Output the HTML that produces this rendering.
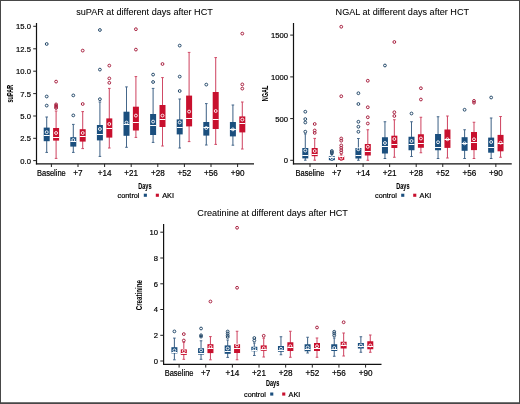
<!DOCTYPE html>
<html><head><meta charset="utf-8"><style>
html,body{margin:0;padding:0;background:#fff;}
body{width:520px;height:404px;overflow:hidden;position:relative;}
svg{position:absolute;left:0;top:0;font-family:"Liberation Sans",sans-serif;will-change:transform;}
text{stroke:#000;stroke-width:0.2px;}
</style></head><body>
<svg width="520" height="404" viewBox="0 0 520 404">
<rect x="0" y="0" width="520" height="404" fill="#fff"/>
<text x="144.5" y="15.4" font-size="9.1" text-anchor="middle" fill="#000" style="stroke-width:0.06px">suPAR at different days after HCT</text>
<line x1="36.5" y1="23" x2="36.5" y2="164.4" stroke="#111" stroke-width="1.2"/>
<line x1="35.9" y1="163.8" x2="254" y2="163.8" stroke="#111" stroke-width="1.2"/>
<line x1="33.2" y1="26.3" x2="36.5" y2="26.3" stroke="#222" stroke-width="1"/>
<text x="30.9" y="29.2" font-size="8.1" text-anchor="end" textLength="14.89" lengthAdjust="spacingAndGlyphs" fill="#000">15.0</text>
<line x1="33.2" y1="48.8" x2="36.5" y2="48.8" stroke="#222" stroke-width="1"/>
<text x="30.9" y="51.699999999999996" font-size="8.1" text-anchor="end" textLength="14.89" lengthAdjust="spacingAndGlyphs" fill="#000">12.5</text>
<line x1="33.2" y1="71.2" x2="36.5" y2="71.2" stroke="#222" stroke-width="1"/>
<text x="30.9" y="74.10000000000001" font-size="8.1" text-anchor="end" textLength="14.89" lengthAdjust="spacingAndGlyphs" fill="#000">10.0</text>
<line x1="33.2" y1="93.6" x2="36.5" y2="93.6" stroke="#222" stroke-width="1"/>
<text x="30.9" y="96.5" font-size="8.1" text-anchor="end" textLength="10.63" lengthAdjust="spacingAndGlyphs" fill="#000">7.5</text>
<line x1="33.2" y1="116" x2="36.5" y2="116" stroke="#222" stroke-width="1"/>
<text x="30.9" y="118.9" font-size="8.1" text-anchor="end" textLength="10.63" lengthAdjust="spacingAndGlyphs" fill="#000">5.0</text>
<line x1="33.2" y1="138.3" x2="36.5" y2="138.3" stroke="#222" stroke-width="1"/>
<text x="30.9" y="141.20000000000002" font-size="8.1" text-anchor="end" textLength="10.63" lengthAdjust="spacingAndGlyphs" fill="#000">2.5</text>
<line x1="33.2" y1="160.6" x2="36.5" y2="160.6" stroke="#222" stroke-width="1"/>
<text x="30.9" y="163.5" font-size="8.1" text-anchor="end" textLength="10.63" lengthAdjust="spacingAndGlyphs" fill="#000">0.0</text>
<line x1="51.40" y1="163.8" x2="51.40" y2="167.0" stroke="#222" stroke-width="1"/>
<text x="51.40" y="175.8" font-size="8.5" text-anchor="middle" textLength="28.80" lengthAdjust="spacingAndGlyphs" fill="#000">Baseline</text>
<line x1="78.00" y1="163.8" x2="78.00" y2="167.0" stroke="#222" stroke-width="1"/>
<text x="78.00" y="175.8" font-size="8.5" text-anchor="middle" textLength="9.30" lengthAdjust="spacingAndGlyphs" fill="#000">+7</text>
<line x1="104.60" y1="163.8" x2="104.60" y2="167.0" stroke="#222" stroke-width="1"/>
<text x="104.60" y="175.8" font-size="8.5" text-anchor="middle" textLength="13.80" lengthAdjust="spacingAndGlyphs" fill="#000">+14</text>
<line x1="131.20" y1="163.8" x2="131.20" y2="167.0" stroke="#222" stroke-width="1"/>
<text x="131.20" y="175.8" font-size="8.5" text-anchor="middle" textLength="13.80" lengthAdjust="spacingAndGlyphs" fill="#000">+21</text>
<line x1="157.80" y1="163.8" x2="157.80" y2="167.0" stroke="#222" stroke-width="1"/>
<text x="157.80" y="175.8" font-size="8.5" text-anchor="middle" textLength="13.80" lengthAdjust="spacingAndGlyphs" fill="#000">+28</text>
<line x1="184.40" y1="163.8" x2="184.40" y2="167.0" stroke="#222" stroke-width="1"/>
<text x="184.40" y="175.8" font-size="8.5" text-anchor="middle" textLength="13.80" lengthAdjust="spacingAndGlyphs" fill="#000">+52</text>
<line x1="211.00" y1="163.8" x2="211.00" y2="167.0" stroke="#222" stroke-width="1"/>
<text x="211.00" y="175.8" font-size="8.5" text-anchor="middle" textLength="13.80" lengthAdjust="spacingAndGlyphs" fill="#000">+56</text>
<line x1="237.60" y1="163.8" x2="237.60" y2="167.0" stroke="#222" stroke-width="1"/>
<text x="237.60" y="175.8" font-size="8.5" text-anchor="middle" textLength="13.80" lengthAdjust="spacingAndGlyphs" fill="#000">+90</text>
<text transform="translate(13.3,93.7) rotate(-90)" font-size="9.2" font-weight="bold" text-anchor="middle" textLength="17.6" lengthAdjust="spacingAndGlyphs" fill="#000" style="stroke-width:0.05px">suPAR</text>
<text transform="translate(144.85,188.7)" font-size="9.3" font-weight="bold" text-anchor="middle" textLength="13.2" lengthAdjust="spacingAndGlyphs" fill="#000" style="stroke-width:0.1px">Days</text>
<text x="139.5" y="197.8" font-size="7.3" text-anchor="end" fill="#000">control</text>
<rect x="143.80" y="193.70" width="3.1" height="3.1" fill="#1b4f7e"/>
<rect x="155.80" y="193.70" width="3.1" height="3.1" fill="#c8102e"/>
<text x="162.2" y="197.8" font-size="7.3" text-anchor="start" fill="#000">AKI</text>
<line x1="46.70" y1="117.00" x2="46.70" y2="152.40" stroke="#45678a" stroke-width="1.05"/>
<line x1="45.40" y1="117.00" x2="48.00" y2="117.00" stroke="#45678a" stroke-width="1"/>
<line x1="45.40" y1="152.40" x2="48.00" y2="152.40" stroke="#45678a" stroke-width="1"/>
<rect x="43.70" y="127.60" width="6.00" height="13.60" fill="#1b4f7e"/>
<line x1="43.70" y1="135.50" x2="49.70" y2="135.50" stroke="#fff" stroke-width="1"/>
<circle cx="46.70" cy="132.20" r="1.45" fill="none" stroke="#fff" stroke-width="0.9"/>
<circle cx="46.70" cy="44.00" r="1.4" fill="none" stroke="#24496a" stroke-width="1"/>
<circle cx="46.70" cy="96.50" r="1.4" fill="none" stroke="#24496a" stroke-width="1"/>
<circle cx="46.70" cy="105.60" r="1.4" fill="none" stroke="#24496a" stroke-width="1"/>
<line x1="56.10" y1="111.00" x2="56.10" y2="158.40" stroke="#d04a66" stroke-width="1.05"/>
<line x1="54.80" y1="111.00" x2="57.40" y2="111.00" stroke="#d04a66" stroke-width="1"/>
<line x1="54.80" y1="158.40" x2="57.40" y2="158.40" stroke="#d04a66" stroke-width="1"/>
<rect x="53.10" y="128.00" width="6.00" height="12.60" fill="#c8102e"/>
<line x1="53.10" y1="137.50" x2="59.10" y2="137.50" stroke="#fff" stroke-width="1"/>
<circle cx="56.10" cy="133.00" r="1.45" fill="none" stroke="#fff" stroke-width="0.9"/>
<circle cx="56.10" cy="81.60" r="1.4" fill="none" stroke="#a8203f" stroke-width="1"/>
<circle cx="56.10" cy="104.40" r="1.4" fill="none" stroke="#a8203f" stroke-width="1"/>
<circle cx="56.10" cy="105.60" r="1.4" fill="none" stroke="#a8203f" stroke-width="1"/>
<circle cx="56.10" cy="106.80" r="1.4" fill="none" stroke="#a8203f" stroke-width="1"/>
<circle cx="56.10" cy="108.00" r="1.4" fill="none" stroke="#a8203f" stroke-width="1"/>
<line x1="73.30" y1="124.40" x2="73.30" y2="152.40" stroke="#45678a" stroke-width="1.05"/>
<line x1="72.00" y1="124.40" x2="74.60" y2="124.40" stroke="#45678a" stroke-width="1"/>
<line x1="72.00" y1="152.40" x2="74.60" y2="152.40" stroke="#45678a" stroke-width="1"/>
<rect x="70.30" y="137.20" width="6.00" height="9.40" fill="#1b4f7e"/>
<line x1="70.30" y1="141.50" x2="76.30" y2="141.50" stroke="#fff" stroke-width="1"/>
<circle cx="73.30" cy="140.00" r="1.45" fill="none" stroke="#fff" stroke-width="0.9"/>
<circle cx="73.30" cy="95.40" r="1.4" fill="none" stroke="#24496a" stroke-width="1"/>
<circle cx="73.30" cy="115.40" r="1.4" fill="none" stroke="#24496a" stroke-width="1"/>
<line x1="82.70" y1="111.60" x2="82.70" y2="148.60" stroke="#d04a66" stroke-width="1.05"/>
<line x1="81.40" y1="111.60" x2="84.00" y2="111.60" stroke="#d04a66" stroke-width="1"/>
<line x1="81.40" y1="148.60" x2="84.00" y2="148.60" stroke="#d04a66" stroke-width="1"/>
<rect x="79.70" y="129.20" width="6.00" height="12.40" fill="#c8102e"/>
<line x1="79.70" y1="136.50" x2="85.70" y2="136.50" stroke="#fff" stroke-width="1"/>
<circle cx="82.70" cy="133.00" r="1.45" fill="none" stroke="#fff" stroke-width="0.9"/>
<circle cx="82.70" cy="50.60" r="1.4" fill="none" stroke="#a8203f" stroke-width="1"/>
<circle cx="82.70" cy="104.00" r="1.4" fill="none" stroke="#a8203f" stroke-width="1"/>
<line x1="99.90" y1="102.00" x2="99.90" y2="156.40" stroke="#45678a" stroke-width="1.05"/>
<line x1="98.60" y1="102.00" x2="101.20" y2="102.00" stroke="#45678a" stroke-width="1"/>
<line x1="98.60" y1="156.40" x2="101.20" y2="156.40" stroke="#45678a" stroke-width="1"/>
<rect x="96.90" y="125.00" width="6.00" height="15.40" fill="#1b4f7e"/>
<line x1="96.90" y1="134.50" x2="102.90" y2="134.50" stroke="#fff" stroke-width="1"/>
<circle cx="99.90" cy="129.00" r="1.45" fill="none" stroke="#fff" stroke-width="0.9"/>
<circle cx="99.90" cy="30.00" r="1.4" fill="none" stroke="#24496a" stroke-width="1"/>
<circle cx="99.90" cy="69.60" r="1.4" fill="none" stroke="#24496a" stroke-width="1"/>
<circle cx="99.90" cy="99.20" r="1.4" fill="none" stroke="#24496a" stroke-width="1"/>
<line x1="109.30" y1="88.40" x2="109.30" y2="148.00" stroke="#d04a66" stroke-width="1.05"/>
<line x1="108.00" y1="88.40" x2="110.60" y2="88.40" stroke="#d04a66" stroke-width="1"/>
<line x1="108.00" y1="148.00" x2="110.60" y2="148.00" stroke="#d04a66" stroke-width="1"/>
<rect x="106.30" y="118.40" width="6.00" height="19.20" fill="#c8102e"/>
<line x1="106.30" y1="128.50" x2="112.30" y2="128.50" stroke="#fff" stroke-width="1"/>
<circle cx="109.30" cy="124.00" r="1.45" fill="none" stroke="#fff" stroke-width="0.9"/>
<circle cx="109.30" cy="65.60" r="1.4" fill="none" stroke="#a8203f" stroke-width="1"/>
<circle cx="109.30" cy="78.40" r="1.4" fill="none" stroke="#a8203f" stroke-width="1"/>
<circle cx="109.30" cy="82.80" r="1.4" fill="none" stroke="#a8203f" stroke-width="1"/>
<line x1="126.50" y1="86.90" x2="126.50" y2="147.30" stroke="#45678a" stroke-width="1.05"/>
<line x1="125.20" y1="86.90" x2="127.80" y2="86.90" stroke="#45678a" stroke-width="1"/>
<line x1="125.20" y1="147.30" x2="127.80" y2="147.30" stroke="#45678a" stroke-width="1"/>
<rect x="123.50" y="111.70" width="6.00" height="24.10" fill="#1b4f7e"/>
<line x1="123.50" y1="124.50" x2="129.50" y2="124.50" stroke="#fff" stroke-width="1"/>
<circle cx="126.50" cy="122.60" r="1.45" fill="none" stroke="#fff" stroke-width="0.9"/>
<line x1="135.90" y1="76.60" x2="135.90" y2="137.40" stroke="#d04a66" stroke-width="1.05"/>
<line x1="134.60" y1="76.60" x2="137.20" y2="76.60" stroke="#d04a66" stroke-width="1"/>
<line x1="134.60" y1="137.40" x2="137.20" y2="137.40" stroke="#d04a66" stroke-width="1"/>
<rect x="132.90" y="106.70" width="6.00" height="23.80" fill="#c8102e"/>
<line x1="132.90" y1="122.50" x2="138.90" y2="122.50" stroke="#fff" stroke-width="1"/>
<circle cx="135.90" cy="115.60" r="1.45" fill="none" stroke="#fff" stroke-width="0.9"/>
<circle cx="135.90" cy="29.20" r="1.4" fill="none" stroke="#a8203f" stroke-width="1"/>
<circle cx="135.90" cy="49.60" r="1.4" fill="none" stroke="#a8203f" stroke-width="1"/>
<line x1="153.10" y1="88.40" x2="153.10" y2="142.40" stroke="#45678a" stroke-width="1.05"/>
<line x1="151.80" y1="88.40" x2="154.40" y2="88.40" stroke="#45678a" stroke-width="1"/>
<line x1="151.80" y1="142.40" x2="154.40" y2="142.40" stroke="#45678a" stroke-width="1"/>
<rect x="150.10" y="114.00" width="6.00" height="21.00" fill="#1b4f7e"/>
<line x1="150.10" y1="125.50" x2="156.10" y2="125.50" stroke="#fff" stroke-width="1"/>
<circle cx="153.10" cy="121.60" r="1.45" fill="none" stroke="#fff" stroke-width="0.9"/>
<circle cx="153.10" cy="74.60" r="1.4" fill="none" stroke="#24496a" stroke-width="1"/>
<circle cx="153.10" cy="82.00" r="1.4" fill="none" stroke="#24496a" stroke-width="1"/>
<line x1="162.50" y1="77.60" x2="162.50" y2="146.00" stroke="#d04a66" stroke-width="1.05"/>
<line x1="161.20" y1="77.60" x2="163.80" y2="77.60" stroke="#d04a66" stroke-width="1"/>
<line x1="161.20" y1="146.00" x2="163.80" y2="146.00" stroke="#d04a66" stroke-width="1"/>
<rect x="159.50" y="105.00" width="6.00" height="22.00" fill="#c8102e"/>
<line x1="159.50" y1="119.50" x2="165.50" y2="119.50" stroke="#fff" stroke-width="1"/>
<circle cx="162.50" cy="115.60" r="1.45" fill="none" stroke="#fff" stroke-width="0.9"/>
<circle cx="162.50" cy="64.00" r="1.4" fill="none" stroke="#a8203f" stroke-width="1"/>
<line x1="179.70" y1="99.00" x2="179.70" y2="148.00" stroke="#45678a" stroke-width="1.05"/>
<line x1="178.40" y1="99.00" x2="181.00" y2="99.00" stroke="#45678a" stroke-width="1"/>
<line x1="178.40" y1="148.00" x2="181.00" y2="148.00" stroke="#45678a" stroke-width="1"/>
<rect x="176.70" y="119.40" width="6.00" height="15.00" fill="#1b4f7e"/>
<line x1="176.70" y1="127.50" x2="182.70" y2="127.50" stroke="#fff" stroke-width="1"/>
<circle cx="179.70" cy="122.40" r="1.45" fill="none" stroke="#fff" stroke-width="0.9"/>
<circle cx="179.70" cy="45.60" r="1.4" fill="none" stroke="#24496a" stroke-width="1"/>
<circle cx="179.70" cy="76.60" r="1.4" fill="none" stroke="#24496a" stroke-width="1"/>
<circle cx="179.70" cy="91.00" r="1.4" fill="none" stroke="#24496a" stroke-width="1"/>
<line x1="189.10" y1="52.40" x2="189.10" y2="141.60" stroke="#d04a66" stroke-width="1.05"/>
<line x1="187.80" y1="52.40" x2="190.40" y2="52.40" stroke="#d04a66" stroke-width="1"/>
<line x1="187.80" y1="141.60" x2="190.40" y2="141.60" stroke="#d04a66" stroke-width="1"/>
<rect x="186.10" y="95.60" width="6.00" height="30.80" fill="#c8102e"/>
<line x1="186.10" y1="118.50" x2="192.10" y2="118.50" stroke="#fff" stroke-width="1"/>
<circle cx="189.10" cy="111.60" r="1.45" fill="none" stroke="#fff" stroke-width="0.9"/>
<line x1="206.30" y1="103.60" x2="206.30" y2="145.00" stroke="#45678a" stroke-width="1.05"/>
<line x1="205.00" y1="103.60" x2="207.60" y2="103.60" stroke="#45678a" stroke-width="1"/>
<line x1="205.00" y1="145.00" x2="207.60" y2="145.00" stroke="#45678a" stroke-width="1"/>
<rect x="203.30" y="122.00" width="6.00" height="13.60" fill="#1b4f7e"/>
<line x1="203.30" y1="127.50" x2="209.30" y2="127.50" stroke="#fff" stroke-width="1"/>
<circle cx="206.30" cy="128.00" r="1.45" fill="none" stroke="#fff" stroke-width="0.9"/>
<circle cx="206.30" cy="84.60" r="1.4" fill="none" stroke="#24496a" stroke-width="1"/>
<line x1="215.70" y1="57.60" x2="215.70" y2="144.40" stroke="#d04a66" stroke-width="1.05"/>
<line x1="214.40" y1="57.60" x2="217.00" y2="57.60" stroke="#d04a66" stroke-width="1"/>
<line x1="214.40" y1="144.40" x2="217.00" y2="144.40" stroke="#d04a66" stroke-width="1"/>
<rect x="212.70" y="92.00" width="6.00" height="37.00" fill="#c8102e"/>
<line x1="212.70" y1="119.50" x2="218.70" y2="119.50" stroke="#fff" stroke-width="1"/>
<circle cx="215.70" cy="111.00" r="1.45" fill="none" stroke="#fff" stroke-width="0.9"/>
<line x1="232.90" y1="105.00" x2="232.90" y2="145.20" stroke="#45678a" stroke-width="1.05"/>
<line x1="231.60" y1="105.00" x2="234.20" y2="105.00" stroke="#45678a" stroke-width="1"/>
<line x1="231.60" y1="145.20" x2="234.20" y2="145.20" stroke="#45678a" stroke-width="1"/>
<rect x="229.90" y="122.00" width="6.00" height="14.40" fill="#1b4f7e"/>
<line x1="229.90" y1="129.50" x2="235.90" y2="129.50" stroke="#fff" stroke-width="1"/>
<circle cx="232.90" cy="129.40" r="1.45" fill="none" stroke="#fff" stroke-width="0.9"/>
<line x1="242.30" y1="102.00" x2="242.30" y2="149.00" stroke="#d04a66" stroke-width="1.05"/>
<line x1="241.00" y1="102.00" x2="243.60" y2="102.00" stroke="#d04a66" stroke-width="1"/>
<line x1="241.00" y1="149.00" x2="243.60" y2="149.00" stroke="#d04a66" stroke-width="1"/>
<rect x="239.30" y="116.40" width="6.00" height="16.00" fill="#c8102e"/>
<line x1="239.30" y1="123.50" x2="245.30" y2="123.50" stroke="#fff" stroke-width="1"/>
<circle cx="242.30" cy="119.60" r="1.45" fill="none" stroke="#fff" stroke-width="0.9"/>
<circle cx="242.30" cy="33.60" r="1.4" fill="none" stroke="#a8203f" stroke-width="1"/>
<circle cx="242.30" cy="84.40" r="1.4" fill="none" stroke="#a8203f" stroke-width="1"/>
<circle cx="242.30" cy="88.60" r="1.4" fill="none" stroke="#a8203f" stroke-width="1"/>
<text x="402.3" y="15.4" font-size="9.1" text-anchor="middle" fill="#000" style="stroke-width:0.06px">NGAL at different days after HCT</text>
<line x1="293.5" y1="23" x2="293.5" y2="164.4" stroke="#111" stroke-width="1.2"/>
<line x1="292.9" y1="163.8" x2="511.75" y2="163.8" stroke="#111" stroke-width="1.2"/>
<line x1="290.2" y1="35.1" x2="293.5" y2="35.1" stroke="#222" stroke-width="1"/>
<text x="287.9" y="38.0" font-size="8.1" text-anchor="end" textLength="17.02" lengthAdjust="spacingAndGlyphs" fill="#000">1500</text>
<line x1="290.2" y1="76.9" x2="293.5" y2="76.9" stroke="#222" stroke-width="1"/>
<text x="287.9" y="79.80000000000001" font-size="8.1" text-anchor="end" textLength="17.02" lengthAdjust="spacingAndGlyphs" fill="#000">1000</text>
<line x1="290.2" y1="118.6" x2="293.5" y2="118.6" stroke="#222" stroke-width="1"/>
<text x="287.9" y="121.5" font-size="8.1" text-anchor="end" textLength="12.76" lengthAdjust="spacingAndGlyphs" fill="#000">500</text>
<line x1="290.2" y1="160.3" x2="293.5" y2="160.3" stroke="#222" stroke-width="1"/>
<text x="287.9" y="163.20000000000002" font-size="8.1" text-anchor="end" textLength="4.25" lengthAdjust="spacingAndGlyphs" fill="#000">0</text>
<line x1="310.00" y1="163.8" x2="310.00" y2="167.0" stroke="#222" stroke-width="1"/>
<text x="310.00" y="175.8" font-size="8.5" text-anchor="middle" textLength="28.80" lengthAdjust="spacingAndGlyphs" fill="#000">Baseline</text>
<line x1="336.55" y1="163.8" x2="336.55" y2="167.0" stroke="#222" stroke-width="1"/>
<text x="336.55" y="175.8" font-size="8.5" text-anchor="middle" textLength="9.30" lengthAdjust="spacingAndGlyphs" fill="#000">+7</text>
<line x1="363.10" y1="163.8" x2="363.10" y2="167.0" stroke="#222" stroke-width="1"/>
<text x="363.10" y="175.8" font-size="8.5" text-anchor="middle" textLength="13.80" lengthAdjust="spacingAndGlyphs" fill="#000">+14</text>
<line x1="389.65" y1="163.8" x2="389.65" y2="167.0" stroke="#222" stroke-width="1"/>
<text x="389.65" y="175.8" font-size="8.5" text-anchor="middle" textLength="13.80" lengthAdjust="spacingAndGlyphs" fill="#000">+21</text>
<line x1="416.20" y1="163.8" x2="416.20" y2="167.0" stroke="#222" stroke-width="1"/>
<text x="416.20" y="175.8" font-size="8.5" text-anchor="middle" textLength="13.80" lengthAdjust="spacingAndGlyphs" fill="#000">+28</text>
<line x1="442.75" y1="163.8" x2="442.75" y2="167.0" stroke="#222" stroke-width="1"/>
<text x="442.75" y="175.8" font-size="8.5" text-anchor="middle" textLength="13.80" lengthAdjust="spacingAndGlyphs" fill="#000">+52</text>
<line x1="469.30" y1="163.8" x2="469.30" y2="167.0" stroke="#222" stroke-width="1"/>
<text x="469.30" y="175.8" font-size="8.5" text-anchor="middle" textLength="13.80" lengthAdjust="spacingAndGlyphs" fill="#000">+56</text>
<line x1="495.85" y1="163.8" x2="495.85" y2="167.0" stroke="#222" stroke-width="1"/>
<text x="495.85" y="175.8" font-size="8.5" text-anchor="middle" textLength="13.80" lengthAdjust="spacingAndGlyphs" fill="#000">+90</text>
<text transform="translate(267.8,93.5) rotate(-90)" font-size="9.2" font-weight="bold" text-anchor="middle" textLength="15.6" lengthAdjust="spacingAndGlyphs" fill="#000" style="stroke-width:0.05px">NGAL</text>
<text transform="translate(402.85,188.6)" font-size="9.3" font-weight="bold" text-anchor="middle" textLength="13.2" lengthAdjust="spacingAndGlyphs" fill="#000" style="stroke-width:0.1px">Days</text>
<text x="396.9" y="197.8" font-size="7.3" text-anchor="end" fill="#000">control</text>
<rect x="401.20" y="193.70" width="3.1" height="3.1" fill="#1b4f7e"/>
<rect x="413.20" y="193.70" width="3.1" height="3.1" fill="#c8102e"/>
<text x="419.59999999999997" y="197.8" font-size="7.3" text-anchor="start" fill="#000">AKI</text>
<line x1="305.30" y1="133.90" x2="305.30" y2="160.20" stroke="#45678a" stroke-width="1.05"/>
<line x1="304.00" y1="133.90" x2="306.60" y2="133.90" stroke="#45678a" stroke-width="1"/>
<line x1="304.00" y1="160.20" x2="306.60" y2="160.20" stroke="#45678a" stroke-width="1"/>
<rect x="302.30" y="148.00" width="6.00" height="10.40" fill="#1b4f7e"/>
<line x1="302.30" y1="155.50" x2="308.30" y2="155.50" stroke="#fff" stroke-width="1"/>
<circle cx="305.30" cy="150.50" r="1.45" fill="none" stroke="#fff" stroke-width="0.9"/>
<circle cx="305.30" cy="111.70" r="1.4" fill="none" stroke="#24496a" stroke-width="1"/>
<circle cx="305.30" cy="119.10" r="1.4" fill="none" stroke="#24496a" stroke-width="1"/>
<circle cx="305.30" cy="122.50" r="1.4" fill="none" stroke="#24496a" stroke-width="1"/>
<circle cx="305.30" cy="131.70" r="1.4" fill="none" stroke="#24496a" stroke-width="1"/>
<line x1="314.70" y1="138.40" x2="314.70" y2="160.20" stroke="#d04a66" stroke-width="1.05"/>
<line x1="313.40" y1="138.40" x2="316.00" y2="138.40" stroke="#d04a66" stroke-width="1"/>
<line x1="313.40" y1="160.20" x2="316.00" y2="160.20" stroke="#d04a66" stroke-width="1"/>
<rect x="311.70" y="148.00" width="6.00" height="8.20" fill="#c8102e"/>
<line x1="311.70" y1="154.50" x2="317.70" y2="154.50" stroke="#fff" stroke-width="1"/>
<circle cx="314.70" cy="151.00" r="1.45" fill="none" stroke="#fff" stroke-width="0.9"/>
<circle cx="314.70" cy="124.00" r="1.4" fill="none" stroke="#a8203f" stroke-width="1"/>
<circle cx="314.70" cy="130.50" r="1.4" fill="none" stroke="#a8203f" stroke-width="1"/>
<circle cx="314.70" cy="132.90" r="1.4" fill="none" stroke="#a8203f" stroke-width="1"/>
<line x1="331.85" y1="154.50" x2="331.85" y2="160.30" stroke="#45678a" stroke-width="1.05"/>
<line x1="330.55" y1="154.50" x2="333.15" y2="154.50" stroke="#45678a" stroke-width="1"/>
<line x1="330.55" y1="160.30" x2="333.15" y2="160.30" stroke="#45678a" stroke-width="1"/>
<rect x="328.85" y="156.20" width="6.00" height="4.00" fill="#1b4f7e"/>
<line x1="328.85" y1="157.50" x2="334.85" y2="157.50" stroke="#fff" stroke-width="1"/>
<circle cx="331.85" cy="158.00" r="1.45" fill="none" stroke="#fff" stroke-width="0.9"/>
<circle cx="331.85" cy="151.00" r="1.4" fill="none" stroke="#24496a" stroke-width="1"/>
<circle cx="331.85" cy="152.20" r="1.4" fill="none" stroke="#24496a" stroke-width="1"/>
<circle cx="331.85" cy="153.20" r="1.4" fill="none" stroke="#24496a" stroke-width="1"/>
<line x1="341.25" y1="154.70" x2="341.25" y2="160.30" stroke="#d04a66" stroke-width="1.05"/>
<line x1="339.95" y1="154.70" x2="342.55" y2="154.70" stroke="#d04a66" stroke-width="1"/>
<line x1="339.95" y1="160.30" x2="342.55" y2="160.30" stroke="#d04a66" stroke-width="1"/>
<rect x="338.25" y="155.90" width="6.00" height="4.00" fill="#c8102e"/>
<line x1="338.25" y1="156.50" x2="344.25" y2="156.50" stroke="#fff" stroke-width="1"/>
<circle cx="341.25" cy="157.60" r="1.45" fill="none" stroke="#fff" stroke-width="0.9"/>
<circle cx="341.25" cy="26.75" r="1.4" fill="none" stroke="#a8203f" stroke-width="1"/>
<circle cx="341.25" cy="96.25" r="1.4" fill="none" stroke="#a8203f" stroke-width="1"/>
<circle cx="341.25" cy="138.50" r="1.4" fill="none" stroke="#a8203f" stroke-width="1"/>
<circle cx="341.25" cy="140.70" r="1.4" fill="none" stroke="#a8203f" stroke-width="1"/>
<circle cx="341.25" cy="145.40" r="1.4" fill="none" stroke="#a8203f" stroke-width="1"/>
<circle cx="341.25" cy="147.80" r="1.4" fill="none" stroke="#a8203f" stroke-width="1"/>
<circle cx="341.25" cy="150.20" r="1.4" fill="none" stroke="#a8203f" stroke-width="1"/>
<circle cx="341.25" cy="152.50" r="1.4" fill="none" stroke="#a8203f" stroke-width="1"/>
<line x1="358.40" y1="138.50" x2="358.40" y2="160.25" stroke="#45678a" stroke-width="1.05"/>
<line x1="357.10" y1="138.50" x2="359.70" y2="138.50" stroke="#45678a" stroke-width="1"/>
<line x1="357.10" y1="160.25" x2="359.70" y2="160.25" stroke="#45678a" stroke-width="1"/>
<rect x="355.40" y="148.00" width="6.00" height="10.50" fill="#1b4f7e"/>
<line x1="355.40" y1="155.50" x2="361.40" y2="155.50" stroke="#fff" stroke-width="1"/>
<circle cx="358.40" cy="149.25" r="1.45" fill="none" stroke="#fff" stroke-width="0.9"/>
<circle cx="358.40" cy="93.25" r="1.4" fill="none" stroke="#24496a" stroke-width="1"/>
<circle cx="358.40" cy="104.00" r="1.4" fill="none" stroke="#24496a" stroke-width="1"/>
<circle cx="358.40" cy="121.75" r="1.4" fill="none" stroke="#24496a" stroke-width="1"/>
<circle cx="358.40" cy="126.75" r="1.4" fill="none" stroke="#24496a" stroke-width="1"/>
<circle cx="358.40" cy="131.75" r="1.4" fill="none" stroke="#24496a" stroke-width="1"/>
<line x1="367.80" y1="129.75" x2="367.80" y2="160.25" stroke="#d04a66" stroke-width="1.05"/>
<line x1="366.50" y1="129.75" x2="369.10" y2="129.75" stroke="#d04a66" stroke-width="1"/>
<line x1="366.50" y1="160.25" x2="369.10" y2="160.25" stroke="#d04a66" stroke-width="1"/>
<rect x="364.80" y="144.00" width="6.00" height="11.50" fill="#c8102e"/>
<line x1="364.80" y1="151.50" x2="370.80" y2="151.50" stroke="#fff" stroke-width="1"/>
<circle cx="367.80" cy="146.75" r="1.45" fill="none" stroke="#fff" stroke-width="0.9"/>
<circle cx="367.80" cy="80.75" r="1.4" fill="none" stroke="#a8203f" stroke-width="1"/>
<circle cx="367.80" cy="107.25" r="1.4" fill="none" stroke="#a8203f" stroke-width="1"/>
<circle cx="367.80" cy="117.25" r="1.4" fill="none" stroke="#a8203f" stroke-width="1"/>
<circle cx="367.80" cy="123.50" r="1.4" fill="none" stroke="#a8203f" stroke-width="1"/>
<line x1="384.95" y1="121.75" x2="384.95" y2="158.50" stroke="#45678a" stroke-width="1.05"/>
<line x1="383.65" y1="121.75" x2="386.25" y2="121.75" stroke="#45678a" stroke-width="1"/>
<line x1="383.65" y1="158.50" x2="386.25" y2="158.50" stroke="#45678a" stroke-width="1"/>
<rect x="381.95" y="137.25" width="6.00" height="16.25" fill="#1b4f7e"/>
<line x1="381.95" y1="146.50" x2="387.95" y2="146.50" stroke="#fff" stroke-width="1"/>
<circle cx="384.95" cy="143.00" r="1.45" fill="none" stroke="#fff" stroke-width="0.9"/>
<circle cx="384.95" cy="65.50" r="1.4" fill="none" stroke="#24496a" stroke-width="1"/>
<line x1="394.35" y1="119.75" x2="394.35" y2="157.25" stroke="#d04a66" stroke-width="1.05"/>
<line x1="393.05" y1="119.75" x2="395.65" y2="119.75" stroke="#d04a66" stroke-width="1"/>
<line x1="393.05" y1="157.25" x2="395.65" y2="157.25" stroke="#d04a66" stroke-width="1"/>
<rect x="391.35" y="135.70" width="6.00" height="12.30" fill="#c8102e"/>
<line x1="391.35" y1="144.50" x2="397.35" y2="144.50" stroke="#fff" stroke-width="1"/>
<circle cx="394.35" cy="139.00" r="1.45" fill="none" stroke="#fff" stroke-width="0.9"/>
<circle cx="394.35" cy="42.00" r="1.4" fill="none" stroke="#a8203f" stroke-width="1"/>
<circle cx="394.35" cy="112.25" r="1.4" fill="none" stroke="#a8203f" stroke-width="1"/>
<circle cx="394.35" cy="116.00" r="1.4" fill="none" stroke="#a8203f" stroke-width="1"/>
<line x1="411.50" y1="121.75" x2="411.50" y2="156.50" stroke="#45678a" stroke-width="1.05"/>
<line x1="410.20" y1="121.75" x2="412.80" y2="121.75" stroke="#45678a" stroke-width="1"/>
<line x1="410.20" y1="156.50" x2="412.80" y2="156.50" stroke="#45678a" stroke-width="1"/>
<rect x="408.50" y="136.75" width="6.00" height="13.50" fill="#1b4f7e"/>
<line x1="408.50" y1="144.50" x2="414.50" y2="144.50" stroke="#fff" stroke-width="1"/>
<circle cx="411.50" cy="141.00" r="1.45" fill="none" stroke="#fff" stroke-width="0.9"/>
<circle cx="411.50" cy="113.50" r="1.4" fill="none" stroke="#24496a" stroke-width="1"/>
<line x1="420.90" y1="117.25" x2="420.90" y2="152.75" stroke="#d04a66" stroke-width="1.05"/>
<line x1="419.60" y1="117.25" x2="422.20" y2="117.25" stroke="#d04a66" stroke-width="1"/>
<line x1="419.60" y1="152.75" x2="422.20" y2="152.75" stroke="#d04a66" stroke-width="1"/>
<rect x="417.90" y="134.25" width="6.00" height="13.50" fill="#c8102e"/>
<line x1="417.90" y1="143.50" x2="423.90" y2="143.50" stroke="#fff" stroke-width="1"/>
<circle cx="420.90" cy="138.50" r="1.45" fill="none" stroke="#fff" stroke-width="0.9"/>
<circle cx="420.90" cy="88.25" r="1.4" fill="none" stroke="#a8203f" stroke-width="1"/>
<circle cx="420.90" cy="99.50" r="1.4" fill="none" stroke="#a8203f" stroke-width="1"/>
<line x1="438.05" y1="116.75" x2="438.05" y2="158.50" stroke="#45678a" stroke-width="1.05"/>
<line x1="436.75" y1="116.75" x2="439.35" y2="116.75" stroke="#45678a" stroke-width="1"/>
<line x1="436.75" y1="158.50" x2="439.35" y2="158.50" stroke="#45678a" stroke-width="1"/>
<rect x="435.05" y="134.00" width="6.00" height="16.25" fill="#1b4f7e"/>
<line x1="435.05" y1="147.50" x2="441.05" y2="147.50" stroke="#fff" stroke-width="1"/>
<circle cx="438.05" cy="142.25" r="1.45" fill="none" stroke="#fff" stroke-width="0.9"/>
<line x1="447.45" y1="116.00" x2="447.45" y2="158.00" stroke="#d04a66" stroke-width="1.05"/>
<line x1="446.15" y1="116.00" x2="448.75" y2="116.00" stroke="#d04a66" stroke-width="1"/>
<line x1="446.15" y1="158.00" x2="448.75" y2="158.00" stroke="#d04a66" stroke-width="1"/>
<rect x="444.45" y="129.50" width="6.00" height="18.40" fill="#c8102e"/>
<line x1="444.45" y1="139.50" x2="450.45" y2="139.50" stroke="#fff" stroke-width="1"/>
<circle cx="447.45" cy="139.25" r="1.45" fill="none" stroke="#fff" stroke-width="0.9"/>
<line x1="464.60" y1="129.75" x2="464.60" y2="158.50" stroke="#45678a" stroke-width="1.05"/>
<line x1="463.30" y1="129.75" x2="465.90" y2="129.75" stroke="#45678a" stroke-width="1"/>
<line x1="463.30" y1="158.50" x2="465.90" y2="158.50" stroke="#45678a" stroke-width="1"/>
<rect x="461.60" y="137.20" width="6.00" height="13.60" fill="#1b4f7e"/>
<line x1="461.60" y1="143.50" x2="467.60" y2="143.50" stroke="#fff" stroke-width="1"/>
<circle cx="464.60" cy="143.30" r="1.45" fill="none" stroke="#fff" stroke-width="0.9"/>
<circle cx="464.60" cy="109.75" r="1.4" fill="none" stroke="#24496a" stroke-width="1"/>
<line x1="474.00" y1="122.25" x2="474.00" y2="158.50" stroke="#d04a66" stroke-width="1.05"/>
<line x1="472.70" y1="122.25" x2="475.30" y2="122.25" stroke="#d04a66" stroke-width="1"/>
<line x1="472.70" y1="158.50" x2="475.30" y2="158.50" stroke="#d04a66" stroke-width="1"/>
<rect x="471.00" y="132.00" width="6.00" height="18.10" fill="#c8102e"/>
<line x1="471.00" y1="142.50" x2="477.00" y2="142.50" stroke="#fff" stroke-width="1"/>
<circle cx="474.00" cy="139.25" r="1.45" fill="none" stroke="#fff" stroke-width="0.9"/>
<circle cx="474.00" cy="100.90" r="1.4" fill="none" stroke="#a8203f" stroke-width="1"/>
<circle cx="474.00" cy="102.70" r="1.4" fill="none" stroke="#a8203f" stroke-width="1"/>
<line x1="491.15" y1="118.00" x2="491.15" y2="158.50" stroke="#45678a" stroke-width="1.05"/>
<line x1="489.85" y1="118.00" x2="492.45" y2="118.00" stroke="#45678a" stroke-width="1"/>
<line x1="489.85" y1="158.50" x2="492.45" y2="158.50" stroke="#45678a" stroke-width="1"/>
<rect x="488.15" y="137.60" width="6.00" height="15.10" fill="#1b4f7e"/>
<line x1="488.15" y1="147.50" x2="494.15" y2="147.50" stroke="#fff" stroke-width="1"/>
<circle cx="491.15" cy="142.00" r="1.45" fill="none" stroke="#fff" stroke-width="0.9"/>
<circle cx="491.15" cy="97.50" r="1.4" fill="none" stroke="#24496a" stroke-width="1"/>
<line x1="500.55" y1="116.50" x2="500.55" y2="157.25" stroke="#d04a66" stroke-width="1.05"/>
<line x1="499.25" y1="116.50" x2="501.85" y2="116.50" stroke="#d04a66" stroke-width="1"/>
<line x1="499.25" y1="157.25" x2="501.85" y2="157.25" stroke="#d04a66" stroke-width="1"/>
<rect x="497.55" y="134.90" width="6.00" height="16.40" fill="#c8102e"/>
<line x1="497.55" y1="143.50" x2="503.55" y2="143.50" stroke="#fff" stroke-width="1"/>
<circle cx="500.55" cy="142.70" r="1.45" fill="none" stroke="#fff" stroke-width="0.9"/>
<text x="272.6" y="216.15" font-size="9.1" text-anchor="middle" fill="#000" style="stroke-width:0.06px">Creatinine at different days after HCT</text>
<line x1="163.6" y1="224" x2="163.6" y2="365.0" stroke="#111" stroke-width="1.2"/>
<line x1="163.0" y1="364.4" x2="381.5" y2="364.4" stroke="#111" stroke-width="1.2"/>
<line x1="160.29999999999998" y1="232.2" x2="163.6" y2="232.2" stroke="#222" stroke-width="1"/>
<text x="158.0" y="235.1" font-size="8.1" text-anchor="end" textLength="8.51" lengthAdjust="spacingAndGlyphs" fill="#000">10</text>
<line x1="160.29999999999998" y1="258.0" x2="163.6" y2="258.0" stroke="#222" stroke-width="1"/>
<text x="158.0" y="260.9" font-size="8.1" text-anchor="end" textLength="4.25" lengthAdjust="spacingAndGlyphs" fill="#000">8</text>
<line x1="160.29999999999998" y1="283.8" x2="163.6" y2="283.8" stroke="#222" stroke-width="1"/>
<text x="158.0" y="286.7" font-size="8.1" text-anchor="end" textLength="4.25" lengthAdjust="spacingAndGlyphs" fill="#000">6</text>
<line x1="160.29999999999998" y1="309.5" x2="163.6" y2="309.5" stroke="#222" stroke-width="1"/>
<text x="158.0" y="312.4" font-size="8.1" text-anchor="end" textLength="4.25" lengthAdjust="spacingAndGlyphs" fill="#000">4</text>
<line x1="160.29999999999998" y1="335.3" x2="163.6" y2="335.3" stroke="#222" stroke-width="1"/>
<text x="158.0" y="338.2" font-size="8.1" text-anchor="end" textLength="4.25" lengthAdjust="spacingAndGlyphs" fill="#000">2</text>
<line x1="160.29999999999998" y1="361" x2="163.6" y2="361" stroke="#222" stroke-width="1"/>
<text x="158.0" y="363.9" font-size="8.1" text-anchor="end" textLength="4.25" lengthAdjust="spacingAndGlyphs" fill="#000">0</text>
<line x1="179.10" y1="364.4" x2="179.10" y2="367.59999999999997" stroke="#222" stroke-width="1"/>
<text x="179.10" y="376.4" font-size="8.5" text-anchor="middle" textLength="28.80" lengthAdjust="spacingAndGlyphs" fill="#000">Baseline</text>
<line x1="205.74" y1="364.4" x2="205.74" y2="367.59999999999997" stroke="#222" stroke-width="1"/>
<text x="205.74" y="376.4" font-size="8.5" text-anchor="middle" textLength="9.30" lengthAdjust="spacingAndGlyphs" fill="#000">+7</text>
<line x1="232.38" y1="364.4" x2="232.38" y2="367.59999999999997" stroke="#222" stroke-width="1"/>
<text x="232.38" y="376.4" font-size="8.5" text-anchor="middle" textLength="13.80" lengthAdjust="spacingAndGlyphs" fill="#000">+14</text>
<line x1="259.02" y1="364.4" x2="259.02" y2="367.59999999999997" stroke="#222" stroke-width="1"/>
<text x="259.02" y="376.4" font-size="8.5" text-anchor="middle" textLength="13.80" lengthAdjust="spacingAndGlyphs" fill="#000">+21</text>
<line x1="285.66" y1="364.4" x2="285.66" y2="367.59999999999997" stroke="#222" stroke-width="1"/>
<text x="285.66" y="376.4" font-size="8.5" text-anchor="middle" textLength="13.80" lengthAdjust="spacingAndGlyphs" fill="#000">+28</text>
<line x1="312.30" y1="364.4" x2="312.30" y2="367.59999999999997" stroke="#222" stroke-width="1"/>
<text x="312.30" y="376.4" font-size="8.5" text-anchor="middle" textLength="13.80" lengthAdjust="spacingAndGlyphs" fill="#000">+52</text>
<line x1="338.94" y1="364.4" x2="338.94" y2="367.59999999999997" stroke="#222" stroke-width="1"/>
<text x="338.94" y="376.4" font-size="8.5" text-anchor="middle" textLength="13.80" lengthAdjust="spacingAndGlyphs" fill="#000">+56</text>
<line x1="365.58" y1="364.4" x2="365.58" y2="367.59999999999997" stroke="#222" stroke-width="1"/>
<text x="365.58" y="376.4" font-size="8.5" text-anchor="middle" textLength="13.80" lengthAdjust="spacingAndGlyphs" fill="#000">+90</text>
<text transform="translate(142.4,295.2) rotate(-90)" font-size="9.2" font-weight="bold" text-anchor="middle" textLength="30.2" lengthAdjust="spacingAndGlyphs" fill="#000" style="stroke-width:0.05px">Creatinine</text>
<text transform="translate(272.6,385.9)" font-size="9.3" font-weight="bold" text-anchor="middle" textLength="13.2" lengthAdjust="spacingAndGlyphs" fill="#000" style="stroke-width:0.1px">Days</text>
<text x="265.9" y="396.6" font-size="7.3" text-anchor="end" fill="#000">control</text>
<rect x="270.20" y="392.50" width="3.1" height="3.1" fill="#1b4f7e"/>
<rect x="282.20" y="392.50" width="3.1" height="3.1" fill="#c8102e"/>
<text x="288.59999999999997" y="396.6" font-size="7.3" text-anchor="start" fill="#000">AKI</text>
<line x1="174.40" y1="338.10" x2="174.40" y2="359.80" stroke="#45678a" stroke-width="1.05"/>
<line x1="173.10" y1="338.10" x2="175.70" y2="338.10" stroke="#45678a" stroke-width="1"/>
<line x1="173.10" y1="359.80" x2="175.70" y2="359.80" stroke="#45678a" stroke-width="1"/>
<rect x="171.40" y="347.20" width="6.00" height="6.20" fill="#1b4f7e"/>
<line x1="171.40" y1="352.50" x2="177.40" y2="352.50" stroke="#fff" stroke-width="1"/>
<circle cx="174.40" cy="350.40" r="1.45" fill="none" stroke="#fff" stroke-width="0.9"/>
<circle cx="174.40" cy="331.40" r="1.4" fill="none" stroke="#24496a" stroke-width="1"/>
<line x1="183.80" y1="342.30" x2="183.80" y2="359.30" stroke="#d04a66" stroke-width="1.05"/>
<line x1="182.50" y1="342.30" x2="185.10" y2="342.30" stroke="#d04a66" stroke-width="1"/>
<line x1="182.50" y1="359.30" x2="185.10" y2="359.30" stroke="#d04a66" stroke-width="1"/>
<rect x="180.80" y="349.40" width="6.00" height="5.50" fill="#c8102e"/>
<line x1="180.80" y1="353.50" x2="186.80" y2="353.50" stroke="#fff" stroke-width="1"/>
<circle cx="183.80" cy="351.20" r="1.45" fill="none" stroke="#fff" stroke-width="0.9"/>
<circle cx="183.80" cy="334.10" r="1.4" fill="none" stroke="#a8203f" stroke-width="1"/>
<circle cx="183.80" cy="340.50" r="1.4" fill="none" stroke="#a8203f" stroke-width="1"/>
<line x1="201.04" y1="340.80" x2="201.04" y2="359.30" stroke="#45678a" stroke-width="1.05"/>
<line x1="199.74" y1="340.80" x2="202.34" y2="340.80" stroke="#45678a" stroke-width="1"/>
<line x1="199.74" y1="359.30" x2="202.34" y2="359.30" stroke="#45678a" stroke-width="1"/>
<rect x="198.04" y="348.20" width="6.00" height="6.40" fill="#1b4f7e"/>
<line x1="198.04" y1="353.50" x2="204.04" y2="353.50" stroke="#fff" stroke-width="1"/>
<circle cx="201.04" cy="350.40" r="1.45" fill="none" stroke="#fff" stroke-width="0.9"/>
<circle cx="201.04" cy="328.50" r="1.4" fill="none" stroke="#24496a" stroke-width="1"/>
<circle cx="201.04" cy="335.30" r="1.4" fill="none" stroke="#24496a" stroke-width="1"/>
<circle cx="201.04" cy="336.60" r="1.4" fill="none" stroke="#24496a" stroke-width="1"/>
<line x1="210.44" y1="336.60" x2="210.44" y2="359.80" stroke="#d04a66" stroke-width="1.05"/>
<line x1="209.14" y1="336.60" x2="211.74" y2="336.60" stroke="#d04a66" stroke-width="1"/>
<line x1="209.14" y1="359.80" x2="211.74" y2="359.80" stroke="#d04a66" stroke-width="1"/>
<rect x="207.44" y="344.20" width="6.00" height="8.90" fill="#c8102e"/>
<line x1="207.44" y1="348.50" x2="213.44" y2="348.50" stroke="#fff" stroke-width="1"/>
<circle cx="210.44" cy="346.90" r="1.45" fill="none" stroke="#fff" stroke-width="0.9"/>
<circle cx="210.44" cy="301.50" r="1.4" fill="none" stroke="#a8203f" stroke-width="1"/>
<line x1="227.68" y1="340.00" x2="227.68" y2="357.40" stroke="#45678a" stroke-width="1.05"/>
<line x1="226.38" y1="340.00" x2="228.98" y2="340.00" stroke="#45678a" stroke-width="1"/>
<line x1="226.38" y1="357.40" x2="228.98" y2="357.40" stroke="#45678a" stroke-width="1"/>
<rect x="224.68" y="345.40" width="6.00" height="8.40" fill="#1b4f7e"/>
<line x1="224.68" y1="351.50" x2="230.68" y2="351.50" stroke="#fff" stroke-width="1"/>
<circle cx="227.68" cy="348.50" r="1.45" fill="none" stroke="#fff" stroke-width="0.9"/>
<circle cx="227.68" cy="331.50" r="1.4" fill="none" stroke="#24496a" stroke-width="1"/>
<circle cx="227.68" cy="333.50" r="1.4" fill="none" stroke="#24496a" stroke-width="1"/>
<circle cx="227.68" cy="335.50" r="1.4" fill="none" stroke="#24496a" stroke-width="1"/>
<circle cx="227.68" cy="337.00" r="1.4" fill="none" stroke="#24496a" stroke-width="1"/>
<line x1="237.08" y1="331.25" x2="237.08" y2="359.75" stroke="#d04a66" stroke-width="1.05"/>
<line x1="235.78" y1="331.25" x2="238.38" y2="331.25" stroke="#d04a66" stroke-width="1"/>
<line x1="235.78" y1="359.75" x2="238.38" y2="359.75" stroke="#d04a66" stroke-width="1"/>
<rect x="234.08" y="344.25" width="6.00" height="8.75" fill="#c8102e"/>
<line x1="234.08" y1="348.50" x2="240.08" y2="348.50" stroke="#fff" stroke-width="1"/>
<circle cx="237.08" cy="345.50" r="1.45" fill="none" stroke="#fff" stroke-width="0.9"/>
<circle cx="237.08" cy="227.75" r="1.4" fill="none" stroke="#a8203f" stroke-width="1"/>
<circle cx="237.08" cy="287.75" r="1.4" fill="none" stroke="#a8203f" stroke-width="1"/>
<line x1="254.32" y1="343.00" x2="254.32" y2="355.50" stroke="#45678a" stroke-width="1.05"/>
<line x1="253.02" y1="343.00" x2="255.62" y2="343.00" stroke="#45678a" stroke-width="1"/>
<line x1="253.02" y1="355.50" x2="255.62" y2="355.50" stroke="#45678a" stroke-width="1"/>
<rect x="251.32" y="346.75" width="6.00" height="4.50" fill="#1b4f7e"/>
<line x1="251.32" y1="350.50" x2="257.32" y2="350.50" stroke="#fff" stroke-width="1"/>
<circle cx="254.32" cy="348.75" r="1.45" fill="none" stroke="#fff" stroke-width="0.9"/>
<circle cx="254.32" cy="338.00" r="1.4" fill="none" stroke="#24496a" stroke-width="1"/>
<circle cx="254.32" cy="340.50" r="1.4" fill="none" stroke="#24496a" stroke-width="1"/>
<line x1="263.72" y1="338.20" x2="263.72" y2="357.00" stroke="#d04a66" stroke-width="1.05"/>
<line x1="262.42" y1="338.20" x2="265.02" y2="338.20" stroke="#d04a66" stroke-width="1"/>
<line x1="262.42" y1="357.00" x2="265.02" y2="357.00" stroke="#d04a66" stroke-width="1"/>
<rect x="260.72" y="345.40" width="6.00" height="5.40" fill="#c8102e"/>
<line x1="260.72" y1="349.50" x2="266.72" y2="349.50" stroke="#fff" stroke-width="1"/>
<circle cx="263.72" cy="348.20" r="1.45" fill="none" stroke="#fff" stroke-width="0.9"/>
<circle cx="263.72" cy="335.80" r="1.4" fill="none" stroke="#a8203f" stroke-width="1"/>
<line x1="280.96" y1="336.75" x2="280.96" y2="354.75" stroke="#45678a" stroke-width="1.05"/>
<line x1="279.66" y1="336.75" x2="282.26" y2="336.75" stroke="#45678a" stroke-width="1"/>
<line x1="279.66" y1="354.75" x2="282.26" y2="354.75" stroke="#45678a" stroke-width="1"/>
<rect x="277.96" y="346.00" width="6.00" height="5.75" fill="#1b4f7e"/>
<line x1="277.96" y1="350.50" x2="283.96" y2="350.50" stroke="#fff" stroke-width="1"/>
<circle cx="280.96" cy="348.75" r="1.45" fill="none" stroke="#fff" stroke-width="0.9"/>
<line x1="290.36" y1="331.25" x2="290.36" y2="357.25" stroke="#d04a66" stroke-width="1.05"/>
<line x1="289.06" y1="331.25" x2="291.66" y2="331.25" stroke="#d04a66" stroke-width="1"/>
<line x1="289.06" y1="357.25" x2="291.66" y2="357.25" stroke="#d04a66" stroke-width="1"/>
<rect x="287.36" y="342.25" width="6.00" height="8.75" fill="#c8102e"/>
<line x1="287.36" y1="347.50" x2="293.36" y2="347.50" stroke="#fff" stroke-width="1"/>
<circle cx="290.36" cy="346.25" r="1.45" fill="none" stroke="#fff" stroke-width="0.9"/>
<line x1="307.60" y1="337.25" x2="307.60" y2="353.00" stroke="#45678a" stroke-width="1.05"/>
<line x1="306.30" y1="337.25" x2="308.90" y2="337.25" stroke="#45678a" stroke-width="1"/>
<line x1="306.30" y1="353.00" x2="308.90" y2="353.00" stroke="#45678a" stroke-width="1"/>
<rect x="304.60" y="344.25" width="6.00" height="7.00" fill="#1b4f7e"/>
<line x1="304.60" y1="349.50" x2="310.60" y2="349.50" stroke="#fff" stroke-width="1"/>
<circle cx="307.60" cy="347.50" r="1.45" fill="none" stroke="#fff" stroke-width="0.9"/>
<line x1="317.00" y1="338.00" x2="317.00" y2="357.25" stroke="#d04a66" stroke-width="1.05"/>
<line x1="315.70" y1="338.00" x2="318.30" y2="338.00" stroke="#d04a66" stroke-width="1"/>
<line x1="315.70" y1="357.25" x2="318.30" y2="357.25" stroke="#d04a66" stroke-width="1"/>
<rect x="314.00" y="343.00" width="6.00" height="8.00" fill="#c8102e"/>
<line x1="314.00" y1="348.50" x2="320.00" y2="348.50" stroke="#fff" stroke-width="1"/>
<circle cx="317.00" cy="346.25" r="1.45" fill="none" stroke="#fff" stroke-width="0.9"/>
<circle cx="317.00" cy="327.50" r="1.4" fill="none" stroke="#a8203f" stroke-width="1"/>
<line x1="334.24" y1="338.00" x2="334.24" y2="356.25" stroke="#45678a" stroke-width="1.05"/>
<line x1="332.94" y1="338.00" x2="335.54" y2="338.00" stroke="#45678a" stroke-width="1"/>
<line x1="332.94" y1="356.25" x2="335.54" y2="356.25" stroke="#45678a" stroke-width="1"/>
<rect x="331.24" y="344.25" width="6.00" height="6.75" fill="#1b4f7e"/>
<line x1="331.24" y1="349.50" x2="337.24" y2="349.50" stroke="#fff" stroke-width="1"/>
<circle cx="334.24" cy="348.00" r="1.45" fill="none" stroke="#fff" stroke-width="0.9"/>
<circle cx="334.24" cy="331.75" r="1.4" fill="none" stroke="#24496a" stroke-width="1"/>
<circle cx="334.24" cy="333.50" r="1.4" fill="none" stroke="#24496a" stroke-width="1"/>
<circle cx="334.24" cy="335.50" r="1.4" fill="none" stroke="#24496a" stroke-width="1"/>
<line x1="343.64" y1="333.00" x2="343.64" y2="356.00" stroke="#d04a66" stroke-width="1.05"/>
<line x1="342.34" y1="333.00" x2="344.94" y2="333.00" stroke="#d04a66" stroke-width="1"/>
<line x1="342.34" y1="356.00" x2="344.94" y2="356.00" stroke="#d04a66" stroke-width="1"/>
<rect x="340.64" y="341.75" width="6.00" height="6.75" fill="#c8102e"/>
<line x1="340.64" y1="345.50" x2="346.64" y2="345.50" stroke="#fff" stroke-width="1"/>
<circle cx="343.64" cy="344.25" r="1.45" fill="none" stroke="#fff" stroke-width="0.9"/>
<circle cx="343.64" cy="322.25" r="1.4" fill="none" stroke="#a8203f" stroke-width="1"/>
<line x1="360.88" y1="336.75" x2="360.88" y2="352.25" stroke="#45678a" stroke-width="1.05"/>
<line x1="359.58" y1="336.75" x2="362.18" y2="336.75" stroke="#45678a" stroke-width="1"/>
<line x1="359.58" y1="352.25" x2="362.18" y2="352.25" stroke="#45678a" stroke-width="1"/>
<rect x="357.88" y="343.00" width="6.00" height="5.50" fill="#1b4f7e"/>
<line x1="357.88" y1="346.50" x2="363.88" y2="346.50" stroke="#fff" stroke-width="1"/>
<circle cx="360.88" cy="345.50" r="1.45" fill="none" stroke="#fff" stroke-width="0.9"/>
<line x1="370.28" y1="335.00" x2="370.28" y2="352.25" stroke="#d04a66" stroke-width="1.05"/>
<line x1="368.98" y1="335.00" x2="371.58" y2="335.00" stroke="#d04a66" stroke-width="1"/>
<line x1="368.98" y1="352.25" x2="371.58" y2="352.25" stroke="#d04a66" stroke-width="1"/>
<rect x="367.28" y="341.25" width="6.00" height="8.00" fill="#c8102e"/>
<line x1="367.28" y1="346.50" x2="373.28" y2="346.50" stroke="#fff" stroke-width="1"/>
<circle cx="370.28" cy="345.50" r="1.45" fill="none" stroke="#fff" stroke-width="0.9"/>
<rect x="0.5" y="0.5" width="519" height="402.5" fill="none" stroke="#474747" stroke-width="1"/>
<line x1="0" y1="403.3" x2="520" y2="403.3" stroke="#474747" stroke-width="1.4"/>
</svg>
</body></html>
